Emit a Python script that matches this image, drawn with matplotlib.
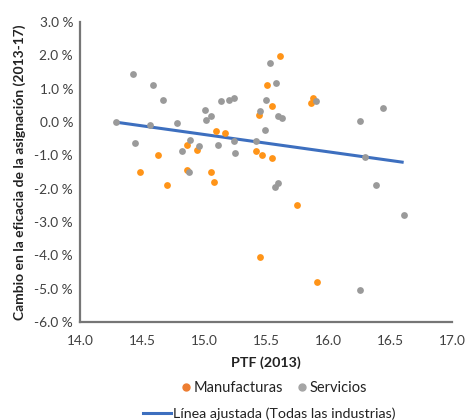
import matplotlib
matplotlib.use("Agg")
import matplotlib.pyplot as plt
from matplotlib.lines import Line2D
from matplotlib.ticker import FuncFormatter

plt.rcParams['font.family'] = ['Lato', 'DejaVu Sans']

manuf_x = [14.63, 15.10, 15.17, 14.86, 14.94, 15.42, 15.47, 15.44, 15.51, 15.55, 14.48,
           14.70, 14.86, 15.06, 15.08, 15.45, 15.61, 15.88, 15.86, 15.55, 15.75, 15.91]
manuf_y = [-0.98, -0.28, -0.33, -0.68, -0.83, -0.88, -0.98, 0.22, 1.12, 0.47, -1.49,
           -1.89, -1.44, -1.49, -1.79, -4.04, 1.98, 0.72, 0.57, -1.08, -2.49, -4.80]

serv_x = [14.43, 14.29, 14.59, 14.67, 14.565, 14.44, 14.78, 15.01, 15.02, 15.06, 15.14,
          15.20, 15.24, 15.24, 15.25, 15.11, 14.89, 14.82, 14.96, 15.42, 15.45, 15.49,
          15.50, 14.88, 15.53, 15.58, 15.60, 15.63, 15.90, 16.26, 16.44, 16.30, 15.60,
          15.57, 16.39, 16.61, 16.26]
serv_y = [1.43, 0.00, 1.12, 0.67, -0.08, -0.63, -0.03, 0.37, 0.07, 0.17, 0.62,
          0.67, 0.72, -0.58, -0.93, -0.68, -0.53, -0.88, -0.73, -0.58, 0.32, -0.23,
          0.67, -1.49, 1.78, 1.17, 0.17, 0.12, 0.62, 0.02, 0.42, -1.04, -1.84,
          -1.94, -1.89, -2.79, -5.05]

fit_x = [14.28, 16.61]
fit_y = [0.00, -1.21]

x_ticks = [14.0, 14.5, 15.0, 15.5, 16.0, 16.5, 17.0]
y_ticks = [3.0, 2.0, 1.0, 0.0, -1.0, -2.0, -3.0, -4.0, -5.0, -6.0]

ORANGE = '#FF9418'
GRAY = '#9A9A9A'
BLUE = '#3D6FBF'
TXT = '#404040'
SPINE = '#767676'

fig = plt.figure(figsize=(4.69, 4.20), dpi=100)
ax = fig.add_axes([0.1706, 0.2333, 0.7932, 0.7143])

ax.scatter(manuf_x, manuf_y, s=24, color=ORANGE, zorder=3, linewidths=0)
ax.scatter(serv_x, serv_y, s=24, color=GRAY, zorder=3, linewidths=0)
ax.plot(fit_x, fit_y, color=BLUE, lw=2.2, zorder=2, solid_capstyle='butt')

ax.set_xlim(14.0, 17.0)
ax.set_ylim(-6.0, 3.0)
ax.set_xticks(x_ticks)
ax.set_yticks(y_ticks)
ax.xaxis.set_major_formatter(FuncFormatter(lambda v, p: f"{v:.1f}"))
ax.yaxis.set_major_formatter(FuncFormatter(lambda v, p: f"{v:.1f} %"))
ax.tick_params(axis='both', length=0, labelsize=9.8, labelcolor=TXT)
ax.tick_params(axis='x', pad=9)
ax.tick_params(axis='y', pad=5)

for s in ['top', 'right']:
    ax.spines[s].set_visible(False)
for s in ['left', 'bottom']:
    ax.spines[s].set_color(SPINE)
    ax.spines[s].set_linewidth(1.6)

ax.set_xlabel('PTF (2013)', fontsize=10.3, fontweight='bold', color='#222222', labelpad=7)
ax.set_ylabel('Cambio en la eficacia de la asignación (2013-17)', fontsize=10,
              fontweight='bold', color='#222222', labelpad=6)

h1 = [Line2D([], [], marker='o', ls='', color='#ED7D31', markersize=5),
      Line2D([], [], marker='o', ls='', color='#A5A5A5', markersize=5)]
fig.legend(h1, ['Manufacturas', 'Servicios'], loc='center', bbox_to_anchor=(0.585, 0.076),
           ncol=2, frameon=False, fontsize=10.5, handlelength=0.6, handletextpad=0.25,
           columnspacing=1.0, labelcolor='#222222')
h2 = [Line2D([], [], color=BLUE, lw=2.2)]
fig.legend(h2, ['Línea ajustada (Todas las industrias)'], loc='center',
           bbox_to_anchor=(0.575, 0.016), frameon=False, fontsize=10.3, handlelength=1.9,
           handletextpad=0.2, labelcolor='#222222')

fig.savefig('out.png', dpi=100)
